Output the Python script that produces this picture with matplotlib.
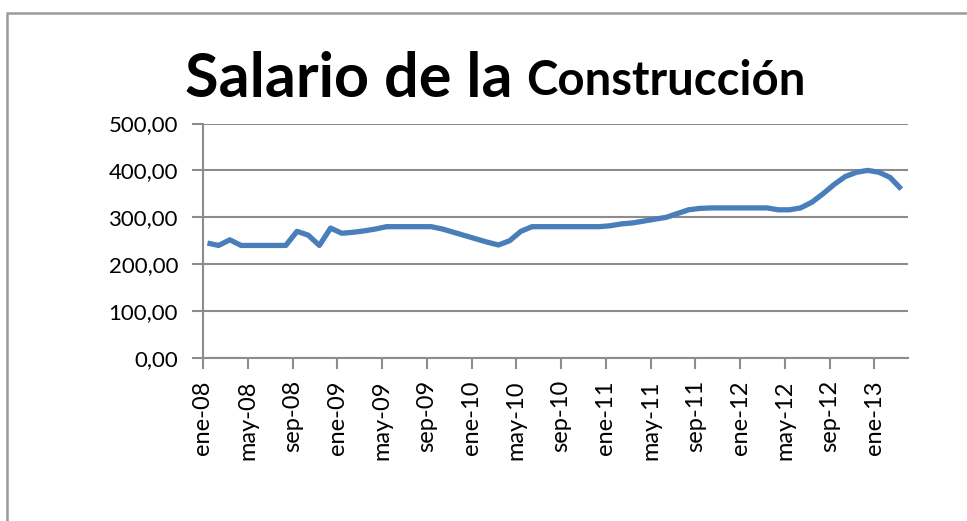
import matplotlib
matplotlib.use('Agg')
from matplotlib import pyplot as plt
from matplotlib.patches import Rectangle
from matplotlib.ticker import FuncFormatter

# monthly salary, ene-08 .. mar-13
salario = [245, 240, 252, 240, 240, 240, 240, 240, 270, 262,
           240, 277, 266, 268, 271, 275, 280, 280, 280, 280,
           280, 275, 268, 261, 254, 247, 241, 250, 270, 280,
           280, 280, 280, 280, 280, 280, 282, 286, 288, 292,
           296, 300, 308, 316, 319, 320, 320, 320, 320, 320,
           320, 316, 316, 320, 332, 350, 370, 387, 396, 400,
           396, 385, 360]
meses = ['ene', 'may', 'sep']
anios = ['08', '09', '10', '11', '12', '13']
tick_labels = [m + '-' + a for a in anios for m in meses][:16]
yticks = [0, 100, 200, 300, 400, 500]

W, H = 967, 521
fig = plt.figure(figsize=(W / 100, H / 100), dpi=100)
font = 'Lato'
gris = '#8c8c8c'

# chart border (runs off the right and bottom edges)
fig.patches.append(Rectangle((7 / W, -0.1), 1.2, 1.1 - 13 / H, transform=fig.transFigure,
                             fill=False, edgecolor='#9a9a9a', linewidth=1.8))

ax = fig.add_axes([203 / W, 1 - 358 / H, (908 - 203) / W, (358 - 123.5) / H])
x = [i + 0.4 for i in range(len(salario))]
ax.plot(x, salario, color='#4a7ebb', linewidth=3.8, solid_joinstyle='round',
        solid_capstyle='butt')

ax.set_xlim(0, 63)
ax.set_ylim(0, 500)
ax.set_yticks(yticks)
ax.yaxis.set_major_formatter(FuncFormatter(lambda v, p: ('%.2f' % v).replace('.', ',')))
ax.set_xticks(range(0, 64, 4))
ax.set_xticklabels(tick_labels, rotation=90)
ax.grid(axis='y', color=gris, linewidth=1.5)
ax.set_axisbelow(True)
for s in ['top', 'right']:
    ax.spines[s].set_visible(False)
for s in ['left', 'bottom']:
    ax.spines[s].set_color(gris)
    ax.spines[s].set_linewidth(1.5)
ax.tick_params(axis='both', color=gris, width=1.5, length=8)
ax.tick_params(axis='y', pad=10, labelsize=16)
ax.tick_params(axis='x', pad=8, labelsize=17)
for lab in ax.get_xticklabels() + ax.get_yticklabels():
    lab.set_fontfamily(font)

fig.text(185 / W, 1 - 97 / H, 'Salario de la', fontsize=44, fontweight='bold',
         family=font, ha='left', va='baseline')
fig.text(526 / W, 1 - 95 / H, 'Construcción', fontsize=34, fontweight='bold',
         family=font, ha='left', va='baseline')

fig.savefig('out.png', dpi=100)
